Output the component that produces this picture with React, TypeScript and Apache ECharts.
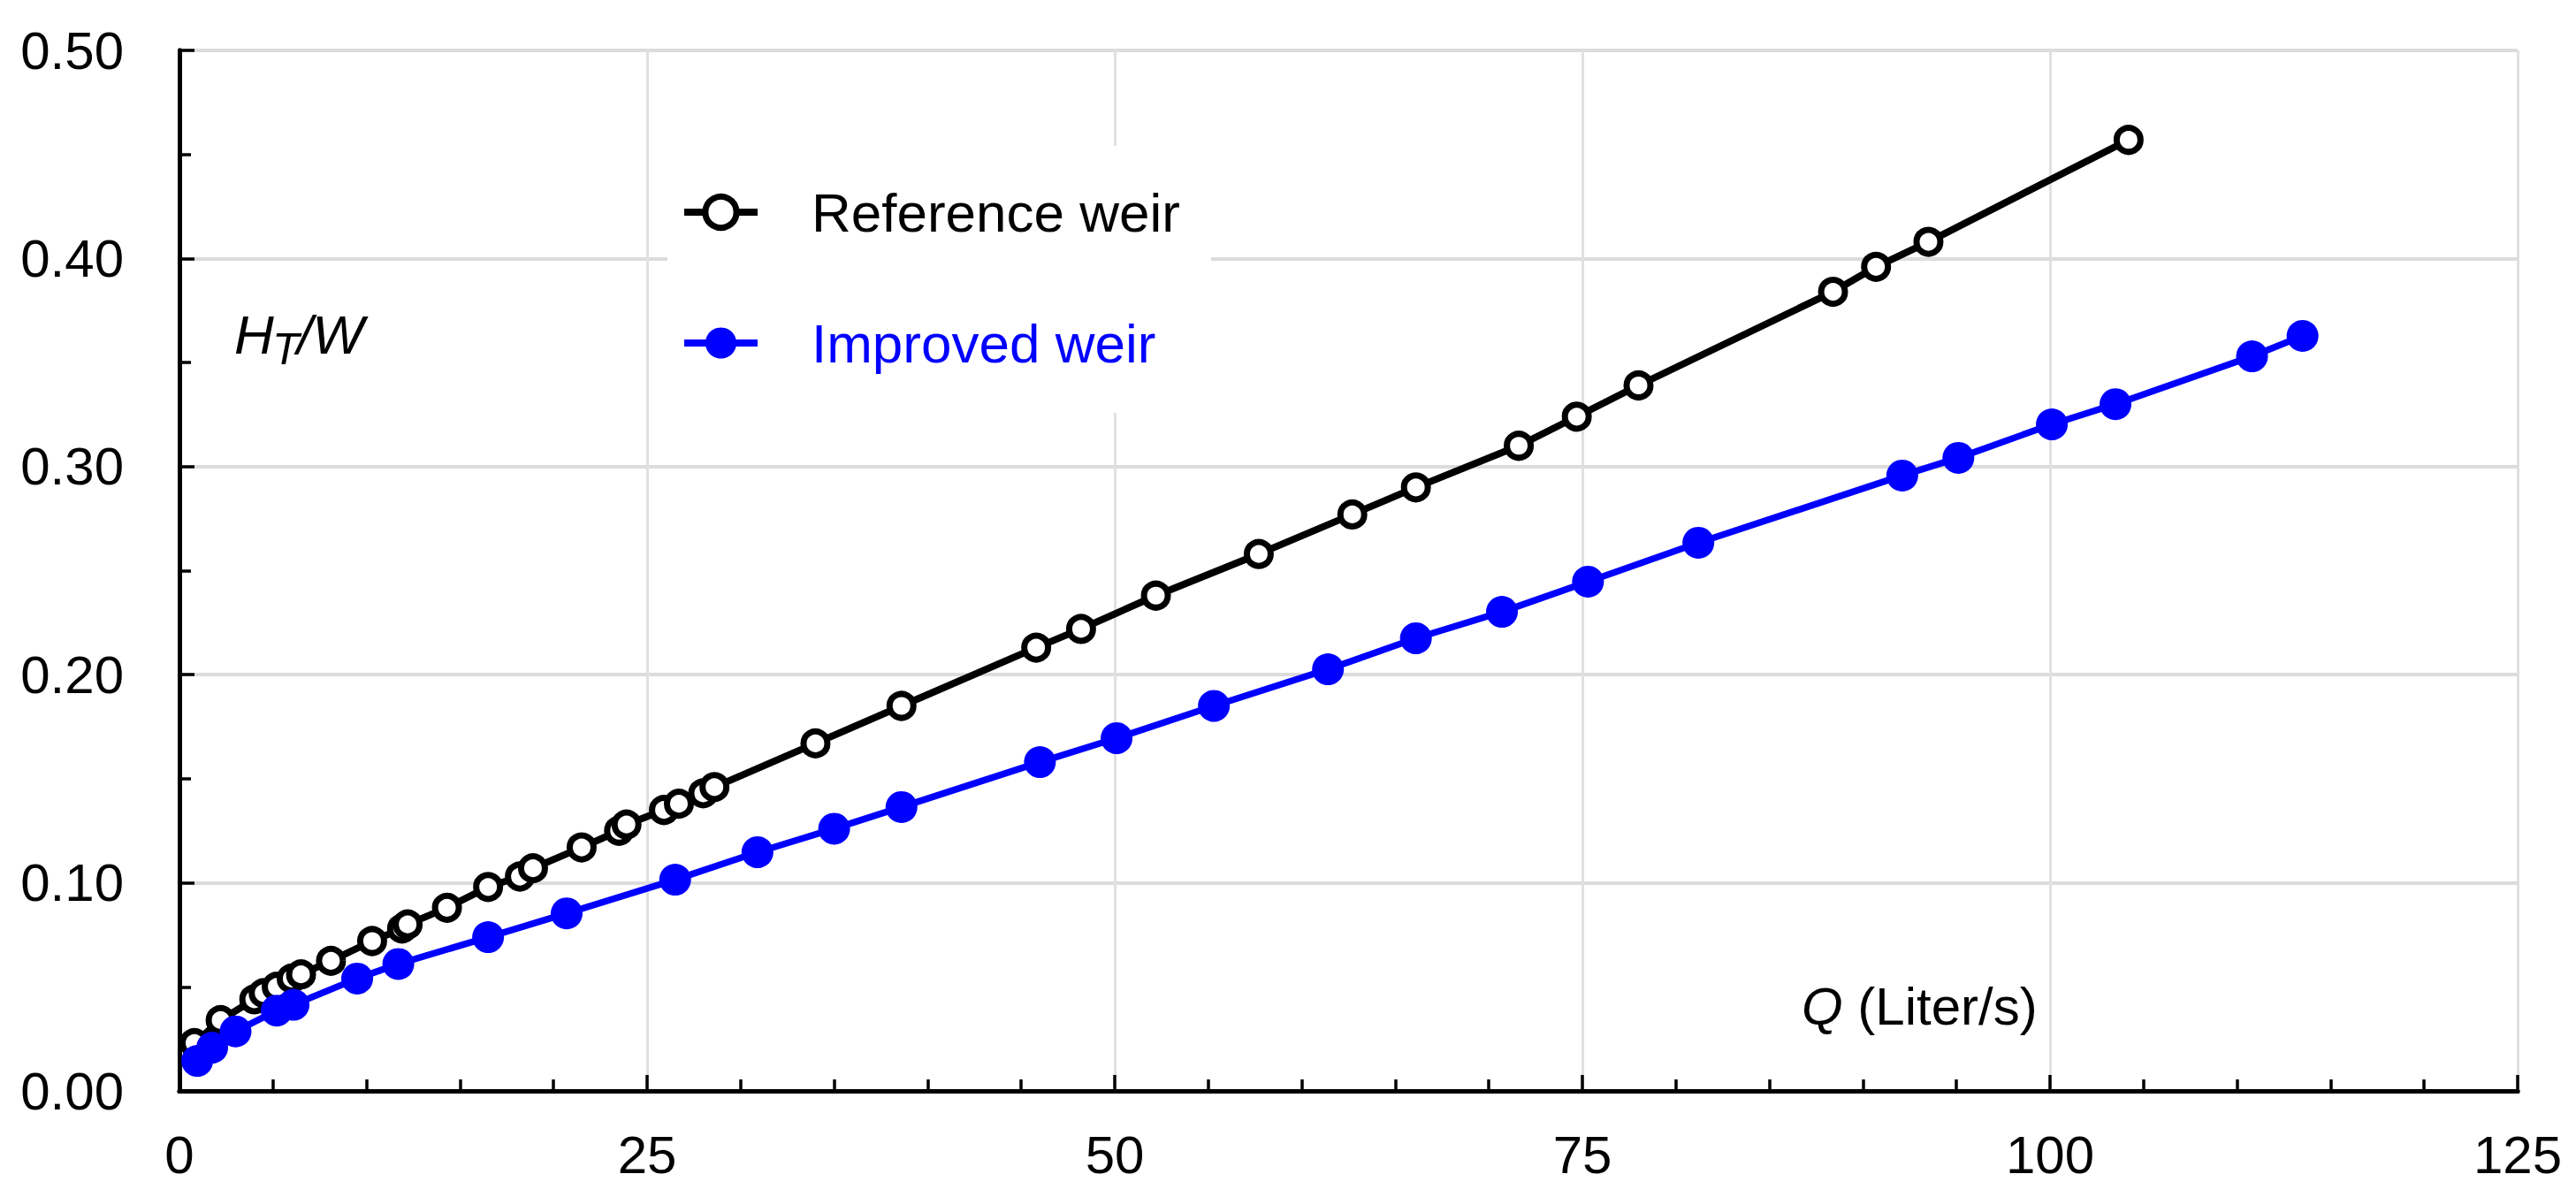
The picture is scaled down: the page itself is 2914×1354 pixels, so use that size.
import React, { useEffect, useRef } from "react";
import * as echarts from "echarts";

const xTicks = [0, 25, 50, 75, 100, 125];
const yTicks = [0, 0.1, 0.2, 0.3, 0.4, 0.5];

const refQ = [0.8, 2.2, 4.0, 4.5, 5.2, 6.0, 6.5, 8.1, 10.3, 11.9, 12.2, 14.3, 16.5, 18.2, 18.9, 21.5, 23.5, 23.9, 25.9, 26.7, 28.0, 28.6, 34.0, 38.6, 45.8, 48.2, 52.2, 57.7, 62.7, 66.1, 71.6, 74.7, 78.0, 88.4, 90.7, 93.5, 104.2];
const refH = [0.023, 0.034, 0.044, 0.047, 0.05, 0.054, 0.056, 0.0625, 0.072, 0.078, 0.08, 0.088, 0.098, 0.103, 0.107, 0.117, 0.125, 0.128, 0.135, 0.138, 0.143, 0.146, 0.167, 0.185, 0.213, 0.222, 0.238, 0.258, 0.277, 0.29, 0.31, 0.324, 0.339, 0.384, 0.396, 0.408, 0.457];

const impQ = [0.95, 1.75, 3.0, 5.2, 6.1, 9.5, 11.7, 16.5, 20.7, 26.5, 30.9, 35.0, 38.6, 46.0, 50.1, 55.3, 61.4, 66.1, 70.7, 75.3, 81.2, 92.1, 95.1, 100.1, 103.5, 110.8, 113.5];
const impH = [0.0144, 0.0208, 0.0286, 0.0386, 0.0414, 0.054, 0.061, 0.0739, 0.0853, 0.1015, 0.1147, 0.126, 0.1364, 0.158, 0.1695, 0.185, 0.2026, 0.2175, 0.2302, 0.2447, 0.2634, 0.2957, 0.3042, 0.3203, 0.33, 0.353, 0.3628];

const seriesNames = ["Reference weir", "Improved weir"];
const FONT = "'Liberation Sans', Arial, Helvetica, sans-serif";

export default function App() {
  const ref = useRef<HTMLDivElement>(null);
  useEffect(() => {
    const chart = echarts.init(ref.current!, null, { renderer: "svg" });
    const xMin = xTicks[0];
    const xMax = xTicks[xTicks.length - 1];
    const yMin = yTicks[0];
    const yMax = yTicks[yTicks.length - 1];
    const frameAxis = {
      axisLine: { show: true, lineStyle: { color: "#000", width: 5 } },
      axisTick: { show: false },
      axisLabel: { show: false },
      splitLine: { show: false },
    };
    chart.setOption({
      animation: false,
      backgroundColor: "#fff",
      textStyle: { fontFamily: FONT },
      grid: { left: 203, top: 57, right: 66, bottom: 120, containLabel: false },
      legend: {
        show: true,
        orient: "vertical",
        left: 755,
        top: 165,
        padding: [40, 35, 44, 15],
        backgroundColor: "#fff",
        itemWidth: 83,
        itemHeight: 44,
        itemGap: 78,
        selectedMode: false,
        lineStyle: { width: 8 },
        textStyle: { fontSize: 62, fontFamily: FONT, lineHeight: 70, padding: [0, 0, 0, 56] },
        data: [
          { name: seriesNames[0], textStyle: { color: "#000" }, itemStyle: { borderWidth: 7, borderColor: "#000", color: "#fff" }, lineStyle: { width: 8, color: "#000" } },
          { name: seriesNames[1], textStyle: { color: "#0000ff" }, itemStyle: { borderWidth: 0, color: "#0000ff" }, lineStyle: { width: 8, color: "#0000ff" } },
        ],
      },
      xAxis: [
        {
          type: "value",
          min: xMin,
          max: xMax,
          interval: 25,
          axisLine: { show: true, onZero: false, lineStyle: { color: "#000", width: 5 } },
          axisTick: { show: true, inside: true, length: 18, lineStyle: { color: "#000", width: 3.5 } },
          minorTick: { show: true, splitNumber: 5, length: 13, lineStyle: { color: "#000", width: 3.5 } },
          axisLabel: { show: true, color: "#000", fontSize: 60, fontFamily: FONT, margin: 42 },
          splitLine: { show: true, lineStyle: { color: "#e0e0e0", width: 3 } },
        },
        { type: "value", position: "top", min: xMin, max: xMax, interval: 25, ...frameAxis },
      ],
      yAxis: [
        {
          type: "value",
          min: yMin,
          max: yMax,
          interval: 0.1,
          axisLine: { show: true, onZero: false, lineStyle: { color: "#000", width: 5 } },
          axisTick: { show: true, inside: true, length: 17, lineStyle: { color: "#000", width: 3.5 } },
          minorTick: { show: true, splitNumber: 2, length: 13, lineStyle: { color: "#000", width: 3.5 } },
          axisLabel: {
            show: true,
            color: "#000",
            fontSize: 60,
            fontFamily: FONT,
            margin: 63,
            formatter: (v: number) => v.toFixed(2),
          },
          splitLine: { show: true, lineStyle: { color: "#dcdcdc", width: 4 } },
        },
        { type: "value", position: "right", min: yMin, max: yMax, interval: 0.1, ...frameAxis },
      ],
      series: [
        {
          name: seriesNames[0],
          type: "line",
          data: refQ.map((q, i) => [q, refH[i]]),
          symbol: "circle",
          symbolSize: 27,
          showAllSymbol: true,
          lineStyle: { color: "#000", width: 8 },
          itemStyle: { color: "#fff", borderColor: "#000", borderWidth: 7 },
          z: 2,
        },
        {
          name: seriesNames[1],
          type: "line",
          data: impQ.map((q, i) => [q, impH[i]]),
          symbol: "circle",
          symbolSize: 36,
          showAllSymbol: true,
          lineStyle: { color: "#0000ff", width: 7.5 },
          itemStyle: { color: "#0000ff", borderColor: "#0000ff", borderWidth: 0 },
          z: 3,
        },
      ],
      graphic: [
        {
          type: "text",
          x: 265,
          y: 378,
          style: { text: "H", fontSize: 62, fontStyle: "italic", fontFamily: FONT, fill: "#000", align: "left", verticalAlign: "middle" },
        },
        {
          type: "text",
          x: 308,
          y: 395,
          style: { text: "T", fontSize: 50, fontStyle: "italic", fontFamily: FONT, fill: "#000", align: "left", verticalAlign: "middle" },
        },
        {
          type: "text",
          x: 336,
          y: 378,
          style: { text: "/W", fontSize: 62, fontStyle: "italic", fontFamily: FONT, fill: "#000", align: "left", verticalAlign: "middle" },
        },
        {
          type: "text",
          x: 2038,
          y: 1138,
          style: {
            text: "{q|Q} {n|(Liter/s)}",
            fontSize: 60,
            fontFamily: FONT,
            fill: "#000",
            align: "left",
            verticalAlign: "middle",
            rich: {
              q: { fontSize: 60, fontFamily: FONT, fontStyle: "italic", fill: "#000" },
              n: { fontSize: 60, fontFamily: FONT, fill: "#000" },
            },
          },
        },
      ],
    });
    return () => chart.dispose();
  }, []);
  return <div ref={ref} style={{ position: "absolute", left: 0, top: 0, width: 2914, height: 1354 }} />;
}
